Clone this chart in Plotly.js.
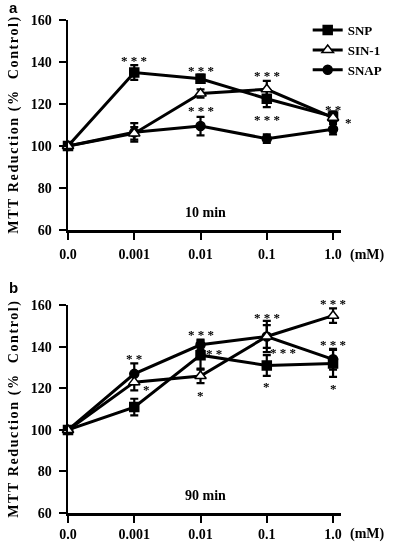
<!DOCTYPE html>
<html>
<head>
<meta charset="utf-8">
<script src="https://cdn.plot.ly/plotly-3.0.1.min.js"></script>
<style>
html,body{margin:0;padding:0;background:#fff;}
#chart svg.main-svg{will-change:transform;}
</style>
</head>
<body>
<div id="chart" style="width:400px;height:552px;"></div>
<script>
// Concentrations (mM)
const conc = ['0.0', '0.001', '0.01', '0.1', '1.0'];

// Panel a: 10 min
const snpA = [100, 135, 132, 122.5, 114];
const snpAErr = [0.8, 3.5, 2, 4, 2.5];
const sinA = [100, 106, 125, 127, 113.5];
const sinAErr = [0.8, 3, 2, 4, 2];
const snapA = [100, 106.5, 109.5, 103.5, 108];
const snapAErr = [0.8, 4.4, 4.4, 2, 2.5];

// Panel b: 90 min
const snpB = [100, 111, 136, 131, 132];
const snpBErr = [0.8, 4, 7, 5, 6.5];
const sinB = [100, 123, 126, 145, 155];
const sinBErr = [0.8, 4, 3.5, 5.5, 3.5];
const snapB = [100, 127, 141, 145, 134];
const snapBErr = [0.8, 5, 2.5, 7.5, 5];

// Significance labels: [category index, y value, text]
const sigA = [[1, 140.5, '* * *'], [2, 135.8, '* * *'], [2, 116.8, '* * *'], [3, 133.4, '* * *'], [3, 112.8, '* * *'], [4, 117.6, '* *'], [4.22, 111.2, '*']];
const sigB = [[1, 134.5, '* *'], [1.18, 119.5, '*'], [2, 146, '* * *'], [2.2, 137, '* *'], [2, 116.5, '*'], [3, 154, '* * *'], [3.25, 137.5, '* * *'], [3, 121, '*'], [4, 161, '* * *'], [4, 141, '* * *'], [4, 120, '*']];

const serif = 'Liberation Serif, Times New Roman, serif';
const PX_PER_UNIT_X = 68.5, PX_PER_UNIT_Y = 2.083;

function series(name, y, err, symbol, fill, xa, ya, show) {
  return {
    x: conc, y: y, name: name, type: 'scatter', mode: 'lines+markers',
    xaxis: xa, yaxis: ya, showlegend: show, cliponaxis: false,
    line: {color: '#000', width: 3},
    marker: {symbol: symbol, size: symbol === 'triangle-up' ? 10 : 9, color: fill, line: {color: '#000', width: 1.5}},
    error_y: {type: 'data', array: err, visible: true, color: '#000', thickness: 2.2, width: 4}
  };
}

const traces = [
  series('SNP', snpA, snpAErr, 'square', '#000', 'x', 'y', true),
  series('SNAP', snapA, snapAErr, 'circle', '#000', 'x', 'y', true),
  series('SIN-1', sinA, sinAErr, 'triangle-up', '#fff', 'x', 'y', true),
  series('SNP', snpB, snpBErr, 'square', '#000', 'x2', 'y2', false),
  series('SNAP', snapB, snapBErr, 'circle', '#000', 'x2', 'y2', false),
  series('SIN-1', sinB, sinBErr, 'triangle-up', '#fff', 'x2', 'y2', false)
];
// legend order SNP, SIN-1, SNAP
traces[0].legendrank = 1; traces[2].legendrank = 2; traces[1].legendrank = 3;

const tickFont = {family: serif, size: 14, color: '#000', weight: 'bold'};
const xCommon = {
  type: 'category', range: [0, 4.12], showline: true, linewidth: 2.5, linecolor: '#000',
  ticks: 'outside', ticklen: 7, tickwidth: 2, tickcolor: '#000', showgrid: false, zeroline: false,
  tickfont: tickFont
};
const yCommon = {
  range: [60, 160], tickvals: [60, 80, 100, 120, 140, 160], showline: true, linewidth: 2.5, linecolor: '#000',
  ticks: 'outside', ticklen: 7, tickwidth: 2, tickcolor: '#000', showgrid: false, zeroline: false,
  tickfont: tickFont, ticklabelstandoff: 4
};

const annotations = [];
// annotations outside the axis range are hidden by Plotly, so clamp and shift in pixels
function addSig(list, xr, yr) {
  list.forEach(s => {
    const xc = Math.min(s[0], 4), yc = Math.min(s[1], 159);
    annotations.push({x: xc, y: yc, xref: xr, yref: yr, text: s[2], showarrow: false,
      xanchor: 'center', yanchor: 'middle',
      xshift: (s[0] - xc) * PX_PER_UNIT_X, yshift: (s[1] - yc) * PX_PER_UNIT_Y,
      font: {family: serif, size: 13, color: '#000', weight: 'bold'}});
  });
}
addSig(sigA, 'x', 'y');
addSig(sigB, 'x2', 'y2');

const bold = {family: serif, size: 14, color: '#000', weight: 'bold'};
const titleFont = {family: serif, size: 14, color: '#000', weight: 'bold'};
const yTitle = '<span style="letter-spacing:1.6px">MTT Reduction (%  Control)</span>';
annotations.push(
  {x: 2.07, y: 68.5, xref: 'x', yref: 'y', text: '10 min', showarrow: false, font: bold},
  {x: 2.07, y: 68.5, xref: 'x2', yref: 'y2', text: '90 min', showarrow: false, font: bold},
  {x: 1.096, y: 0.574, xref: 'paper', yref: 'paper', xanchor: 'center', yanchor: 'middle', yshift: -25, text: '(mM)', showarrow: false, font: bold},
  {x: 1.096, y: 0, xref: 'paper', yref: 'paper', xanchor: 'center', yanchor: 'middle', yshift: -21, text: '(mM)', showarrow: false, font: bold},
  {x: -0.199, y: 0.787, xref: 'paper', yref: 'paper', xanchor: 'center', yanchor: 'middle', text: yTitle, textangle: -90, showarrow: false, font: titleFont},
  {x: -0.199, y: 0.2107, xref: 'paper', yref: 'paper', xanchor: 'center', yanchor: 'middle', text: yTitle, textangle: -90, showarrow: false, font: titleFont},
  {x: -0.2, y: 1.025, xref: 'paper', yref: 'paper', xanchor: 'center', yanchor: 'middle', text: 'a', showarrow: false, font: {family: 'Liberation Sans, Arial, sans-serif', size: 15, color: '#000', weight: 'bold'}},
  {x: -0.2, y: 0.457, xref: 'paper', yref: 'paper', xanchor: 'center', yanchor: 'middle', text: 'b', showarrow: false, font: {family: 'Liberation Sans, Arial, sans-serif', size: 15, color: '#000', weight: 'bold'}}
);

const layout = {
  width: 400, height: 552,
  margin: {l: 68, r: 50, t: 20, b: 39},
  paper_bgcolor: '#fff', plot_bgcolor: '#fff',
  xaxis: Object.assign({}, xCommon, {anchor: 'y', domain: [0, 1], ticklabelstandoff: 3}),
  yaxis: Object.assign({}, yCommon, {anchor: 'x', domain: [0.574, 1]}),
  xaxis2: Object.assign({}, xCommon, {anchor: 'y2', domain: [0, 1], ticklabelstandoff: 0}),
  yaxis2: Object.assign({}, yCommon, {anchor: 'x2', domain: [0, 0.4213]}),
  showlegend: true,
  legend: {x: 0.878, y: 1.01, xanchor: 'left', yanchor: 'top', bgcolor: 'rgba(0,0,0,0)',
    font: {family: serif, size: 13, color: '#000', weight: 'bold'}, itemwidth: 30, tracegroupgap: 0},
  annotations: annotations
};

Plotly.newPlot('chart', traces, layout, {displayModeBar: false, staticPlot: true});
</script>
</body>
</html>
